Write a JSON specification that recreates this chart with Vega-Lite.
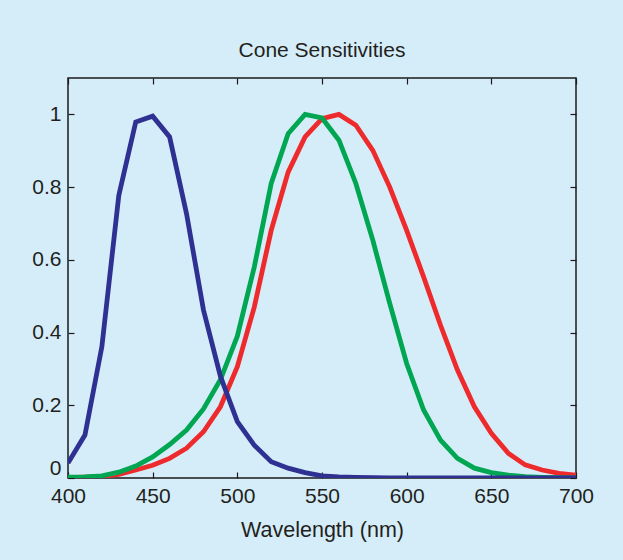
{
  "$schema": "https://vega.github.io/schema/vega-lite/v6.json",
  "width": 508,
  "height": 400,
  "autosize": {"type": "none"},
  "padding": {"left": 68, "top": 78, "right": 47, "bottom": 82},
  "background": "#d5edf9",
  "config": {
    "view": {"stroke": "#1a1a1a", "strokeWidth": 1.5, "fill": "#d5edf9"},
    "font": "Liberation Sans",
    "axis": {"grid": false, "domain": false, "tickColor": "#1a1a1a", "tickWidth": 1.2, "labelColor": "#231f20", "titleColor": "#231f20", "labelFont": "Liberation Sans", "titleFont": "Liberation Sans", "labelFontSize": 21, "titleFontSize": 21.5, "titleFontWeight": "normal"}
  },
  "title": {"text": "Cone Sensitivities", "fontSize": 21, "fontWeight": "normal", "color": "#231f20", "font": "Liberation Sans", "offset": 16},
  "data": {
    "values": [
      {"wl":400,"cone":"L","s":0.001},{"wl":410,"cone":"L","s":0.002},{"wl":420,"cone":"L","s":0.004},{"wl":430,"cone":"L","s":0.010},{"wl":440,"cone":"L","s":0.022},{"wl":450,"cone":"L","s":0.035},{"wl":460,"cone":"L","s":0.054},{"wl":470,"cone":"L","s":0.082},{"wl":480,"cone":"L","s":0.127},{"wl":490,"cone":"L","s":0.196},{"wl":500,"cone":"L","s":0.306},{"wl":510,"cone":"L","s":0.470},{"wl":520,"cone":"L","s":0.681},{"wl":530,"cone":"L","s":0.841},{"wl":540,"cone":"L","s":0.938},{"wl":550,"cone":"L","s":0.988},{"wl":560,"cone":"L","s":1.000},{"wl":570,"cone":"L","s":0.970},{"wl":580,"cone":"L","s":0.901},{"wl":590,"cone":"L","s":0.800},{"wl":600,"cone":"L","s":0.681},{"wl":610,"cone":"L","s":0.553},{"wl":620,"cone":"L","s":0.420},{"wl":630,"cone":"L","s":0.297},{"wl":640,"cone":"L","s":0.196},{"wl":650,"cone":"L","s":0.123},{"wl":660,"cone":"L","s":0.068},{"wl":670,"cone":"L","s":0.036},{"wl":680,"cone":"L","s":0.022},{"wl":690,"cone":"L","s":0.013},{"wl":700,"cone":"L","s":0.008},
      {"wl":400,"cone":"M","s":0.002},{"wl":410,"cone":"M","s":0.003},{"wl":420,"cone":"M","s":0.006},{"wl":430,"cone":"M","s":0.016},{"wl":440,"cone":"M","s":0.033},{"wl":450,"cone":"M","s":0.058},{"wl":460,"cone":"M","s":0.092},{"wl":470,"cone":"M","s":0.132},{"wl":480,"cone":"M","s":0.190},{"wl":490,"cone":"M","s":0.270},{"wl":500,"cone":"M","s":0.390},{"wl":510,"cone":"M","s":0.580},{"wl":520,"cone":"M","s":0.810},{"wl":530,"cone":"M","s":0.947},{"wl":540,"cone":"M","s":1.000},{"wl":550,"cone":"M","s":0.990},{"wl":560,"cone":"M","s":0.929},{"wl":570,"cone":"M","s":0.810},{"wl":580,"cone":"M","s":0.654},{"wl":590,"cone":"M","s":0.480},{"wl":600,"cone":"M","s":0.315},{"wl":610,"cone":"M","s":0.187},{"wl":620,"cone":"M","s":0.104},{"wl":630,"cone":"M","s":0.054},{"wl":640,"cone":"M","s":0.027},{"wl":650,"cone":"M","s":0.015},{"wl":660,"cone":"M","s":0.008},{"wl":670,"cone":"M","s":0.004},{"wl":680,"cone":"M","s":0.002},{"wl":690,"cone":"M","s":0.001},{"wl":700,"cone":"M","s":0.0005},
      {"wl":400,"cone":"S","s":0.041},{"wl":410,"cone":"S","s":0.118},{"wl":420,"cone":"S","s":0.361},{"wl":430,"cone":"S","s":0.777},{"wl":440,"cone":"S","s":0.979},{"wl":450,"cone":"S","s":0.995},{"wl":460,"cone":"S","s":0.938},{"wl":470,"cone":"S","s":0.727},{"wl":480,"cone":"S","s":0.462},{"wl":490,"cone":"S","s":0.280},{"wl":500,"cone":"S","s":0.155},{"wl":510,"cone":"S","s":0.090},{"wl":520,"cone":"S","s":0.045},{"wl":530,"cone":"S","s":0.027},{"wl":540,"cone":"S","s":0.015},{"wl":550,"cone":"S","s":0.006},{"wl":560,"cone":"S","s":0.003},{"wl":570,"cone":"S","s":0.0015},{"wl":580,"cone":"S","s":0.001},{"wl":590,"cone":"S","s":0.0005},{"wl":600,"cone":"S","s":0},{"wl":610,"cone":"S","s":0},{"wl":620,"cone":"S","s":0},{"wl":630,"cone":"S","s":0},{"wl":640,"cone":"S","s":0},{"wl":650,"cone":"S","s":0},{"wl":660,"cone":"S","s":0},{"wl":670,"cone":"S","s":0},{"wl":680,"cone":"S","s":0},{"wl":690,"cone":"S","s":0},{"wl":700,"cone":"S","s":0}
    ]
  },
  "resolve": {"axis": {"x": "independent", "y": "independent"}},
  "layer": [
    {
      "mark": {"type": "line", "strokeWidth": 4.8, "strokeJoin": "miter", "clip": true},
      "encoding": {
        "x": {"field": "wl", "type": "quantitative", "scale": {"domain": [400, 700], "nice": false, "zero": false},
              "axis": {"orient": "bottom", "title": "Wavelength (nm)", "values": [400,450,500,550,600,650,700], "tickSize": -6, "labelPadding": 13, "titlePadding": 13, "labelFlush": false}},
        "y": {"field": "s", "type": "quantitative", "scale": {"domain": [0, 1.1], "nice": false},
              "axis": {"orient": "left", "title": null, "values": [0,0.2,0.4,0.6,0.8,1], "format": "~g", "tickSize": -6, "labelPadding": 13, "labelFlush": true}},
        "color": {"field": "cone", "type": "nominal", "scale": {"domain": ["L","M","S"], "range": ["#ee2b2c", "#00a651", "#2e3192"]}, "legend": null},
        "order": {"field": "wl", "type": "quantitative"}
      }
    },
    {
      "mark": {"type": "line", "opacity": 0},
      "encoding": {
        "x": {"field": "wl", "type": "quantitative", "scale": {"domain": [400, 700], "nice": false, "zero": false},
              "axis": {"orient": "top", "title": null, "labels": false, "values": [400,450,500,550,600,650,700], "tickSize": -6}},
        "y": {"field": "s", "type": "quantitative", "scale": {"domain": [0, 1.1], "nice": false},
              "axis": {"orient": "right", "title": null, "labels": false, "values": [0,0.2,0.4,0.6,0.8,1], "tickSize": -6}}
      }
    }
  ]
}
